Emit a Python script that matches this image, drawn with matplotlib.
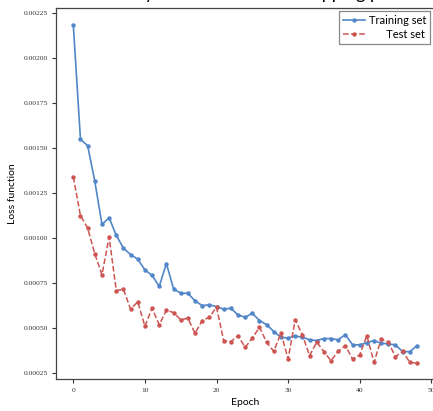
import numpy as np
import matplotlib
matplotlib.use('Agg')
from matplotlib import pyplot as plt

# loss per epoch
epochs = np.arange(49)
train_loss = [0.00218, 0.001547, 0.001513, 0.001315, 0.001076, 0.001113, 0.001015, 0.000944,
              0.000909, 0.000883, 0.000824, 0.000793, 0.000732, 0.000859, 0.000719, 0.000694,
              0.000694, 0.000652, 0.000626, 0.00063, 0.00062, 0.000606, 0.000611, 0.000574,
              0.000561, 0.000583, 0.000543, 0.00052, 0.000482, 0.00045, 0.000446, 0.000457,
              0.00045, 0.000436, 0.000432, 0.000443, 0.000443, 0.000436, 0.000465, 0.000408,
              0.000408, 0.00042, 0.000432, 0.000417, 0.000413, 0.000408, 0.00037, 0.00037,
              0.000404]
test_loss = [0.001339, 0.001124, 0.001056, 0.000913, 0.000797, 0.001006, 0.000709, 0.000716,
             0.000606, 0.000647, 0.000511, 0.000611, 0.00052, 0.0006, 0.000587, 0.000547,
             0.000556, 0.000472, 0.000543, 0.000561, 0.000617, 0.000432, 0.000426, 0.000459,
             0.000394, 0.000445, 0.000506, 0.000422, 0.000372, 0.000474, 0.00033, 0.000547,
             0.000463, 0.000348, 0.000424, 0.00037, 0.00032, 0.000372, 0.000404, 0.00033,
             0.000352, 0.000459, 0.000311, 0.000439, 0.000422, 0.000343, 0.000372, 0.000311,
             0.000306]
yticks = np.arange(0.00025, 0.00226, 0.00025)
xticks = [0, 10, 20, 30, 40, 50]
labels = ['Training set', 'Test set']
title = 'Accuracy and loss with the stopping point'

sans = ['Lato', 'DejaVu Sans']
serif = ['Liberation Serif', 'DejaVu Serif']

fig = plt.figure(figsize=(4.33, 4.11), dpi=100)
ax = fig.add_axes([56 / 433, 31.7 / 411, 378 / 433, 371.3 / 411])
rend = fig.canvas.get_renderer()

def text_w(s, size=8):
    t = fig.text(0, 0, s, family=sans, fontsize=size)
    w = t.get_window_extent(rend).width
    t.remove()
    return w

# right-align legend labels by padding the short one with spaces
wmax = max(text_w(l) for l in labels)
padded = []
for l in labels:
    s = l
    while text_w(' ' + s + '|') - text_w('|') <= wmax + 0.5:
        s = ' ' + s
    padded.append(s)

ax.plot(epochs, train_loss, '-', color='#5186c8', lw=1.2, marker='o', ms=2.2, label=padded[0])
ax.plot(epochs, test_loss, '--', color='#cc5552', lw=1.1, marker='o', ms=2.2, label=padded[1])

ax.set_xlim(-2.42, 50.38)
ax.set_ylim(0.000217, 0.002276)
ax.set_xticks(xticks)
ax.set_yticks(yticks)
ax.set_yticklabels(['%.5f' % v for v in yticks], family=serif, fontsize=5.4)
ax.set_xticklabels([str(v) for v in xticks], family=serif, fontsize=5.4)
ax.tick_params(direction='out', length=3, width=0.8, colors='#333333', pad=3)
for s in ax.spines.values():
    s.set_color('#444444')
    s.set_linewidth(0.9)

ax.set_xlabel('Epoch', family=sans, fontsize=7.5)
ax.set_ylabel('Loss function', family=sans, fontsize=7.5)
ax.xaxis.set_label_coords(0.5, -0.0638)
ax.yaxis.set_label_coords(-0.1138, 0.5)
ax.xaxis.label.set_va('center')
ax.yaxis.label.set_va('center')

leg = ax.legend(loc='upper right', prop={'family': sans, 'size': 8}, fancybox=False,
                edgecolor='#888888', framealpha=1, handlelength=2.0, borderpad=0.35,
                labelspacing=0.25, handletextpad=0.3, borderaxespad=0,
                bbox_to_anchor=(0.989, 0.992))
leg.get_frame().set_linewidth(0.9)

# title of the original figure, mostly cut off above the crop;
# placed so that the descender of "y" lands near x=147 px
pre = text_w(title[:title.index('y')], 13)
fig.text((145 - pre) / 433, 1 + 1 / 411, title,
         family=sans, fontsize=13, va='baseline', ha='left')

fig.savefig('out.png', dpi=100)
